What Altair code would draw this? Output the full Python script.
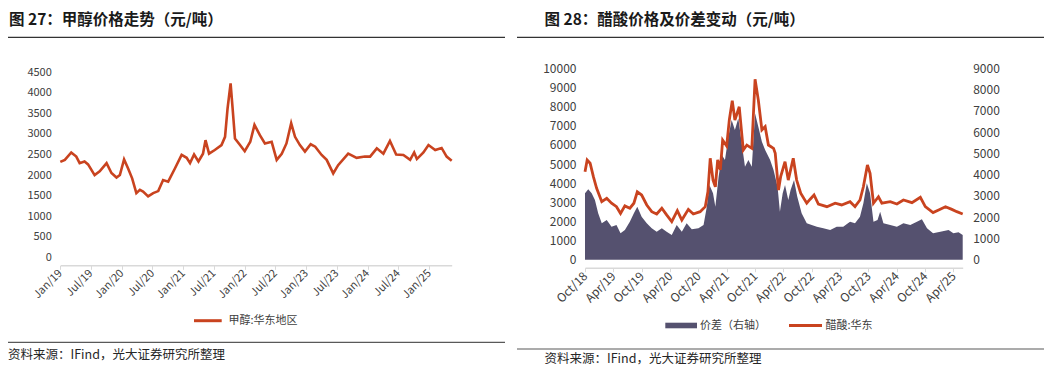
import altair as alt
import pandas as pd

FONT = "Noto Sans CJK SC"
RED = "#C9431F"
PURPLE = "#55516F"
LABEL = "#404040"

# ---------------- data: 甲醇:华东地区 ----------------
meoh_dates = [
    "2019-01-01", "2019-01-28", "2019-03-07", "2019-04-06", "2019-04-26", "2019-05-25",
    "2019-06-15", "2019-07-24", "2019-08-23", "2019-10-03", "2019-11-01", "2019-12-01",
    "2019-12-21", "2020-01-15", "2020-02-08", "2020-03-03", "2020-03-28", "2020-04-18",
    "2020-05-07", "2020-06-06", "2020-07-06", "2020-08-05", "2020-09-03", "2020-10-03",
    "2020-11-12", "2020-12-22", "2021-01-21", "2021-02-10", "2021-03-06", "2021-04-01",
    "2021-04-28", "2021-05-13", "2021-06-03", "2021-07-07", "2021-08-16", "2021-09-06",
    "2021-09-21", "2021-10-09", "2021-10-21", "2021-11-04", "2021-12-04", "2022-01-01",
    "2022-01-22", "2022-02-03", "2022-02-28", "2022-04-01", "2022-05-01", "2022-06-10",
    "2022-07-10", "2022-08-09", "2022-09-06", "2022-10-04", "2022-10-27", "2022-11-25",
    "2022-12-25", "2023-01-28", "2023-02-24", "2023-04-03", "2023-05-03", "2023-06-11",
    "2023-07-10", "2023-09-08", "2023-10-28", "2023-12-16", "2024-01-16", "2024-02-25",
    "2024-04-04", "2024-05-13", "2024-06-19", "2024-08-01", "2024-09-10", "2024-10-04",
    "2024-10-20", "2024-11-28", "2024-12-28", "2025-02-06", "2025-03-16", "2025-04-15",
    "2025-05-15",
]
meoh_values = [
    2320, 2370, 2550, 2450, 2290, 2330,
    2260, 2000, 2090, 2290, 2050, 1940,
    2000, 2380, 2160, 1920, 1560, 1640,
    1600, 1480, 1560, 1610, 1880, 1840,
    2160, 2490, 2420, 2290, 2500, 2330,
    2520, 2850, 2520, 2610, 2730, 2930,
    3620, 4230, 3620, 2890, 2730, 2580,
    2730, 2810, 3220, 2970, 2770, 2810,
    2370, 2520, 2770, 3260, 2930, 2730,
    2570, 2750, 2690, 2490, 2370, 2040,
    2240, 2520, 2420, 2450, 2450, 2650,
    2520, 2830, 2500, 2490, 2370, 2550,
    2390, 2550, 2730, 2610, 2660, 2450,
    2350,
]

# ---------------- data: 醋酸:华东 ----------------
hac_dates = [
    "2018-10-01", "2018-10-15", "2018-11-03", "2018-11-24", "2018-12-15", "2019-01-17",
    "2019-02-18", "2019-03-21", "2019-04-22", "2019-05-18", "2019-06-15", "2019-07-17",
    "2019-08-12", "2019-09-03", "2019-10-01", "2019-11-03", "2019-12-05", "2020-01-06",
    "2020-02-08", "2020-03-10", "2020-04-12", "2020-05-18", "2020-06-16", "2020-07-28",
    "2020-08-29", "2020-10-12", "2020-11-14", "2020-12-01", "2020-12-16", "2021-01-03",
    "2021-01-18", "2021-02-02", "2021-02-19", "2021-03-06", "2021-04-01", "2021-04-18",
    "2021-05-07", "2021-05-24", "2021-06-21", "2021-07-17", "2021-08-09", "2021-09-10",
    "2021-10-01", "2021-10-22", "2021-11-14", "2021-12-05", "2021-12-26", "2022-01-28",
    "2022-02-08", "2022-03-01", "2022-03-15", "2022-04-12", "2022-05-03", "2022-06-04",
    "2022-06-26", "2022-07-22", "2022-08-30", "2022-09-21", "2022-10-16", "2022-11-13",
    "2023-01-07", "2023-03-01", "2023-04-12", "2023-06-05", "2023-07-07", "2023-08-08",
    "2023-08-30", "2023-09-25", "2023-10-12", "2023-11-03", "2023-12-05", "2023-12-27",
    "2024-02-19", "2024-04-02", "2024-05-14", "2024-07-08", "2024-08-31", "2024-10-02",
    "2024-11-21", "2024-12-27", "2025-02-09", "2025-03-22", "2025-04-23", "2025-05-31",
]
hac_values = [
    4600, 5210, 5040, 4340, 3730, 3030,
    3210, 2950, 2770, 2420, 2810, 2690,
    2950, 3550, 3380, 2860, 2510, 2390,
    2690, 2340, 1990, 2560, 2070, 2630,
    2390, 2510, 2770, 3550, 5300, 4160,
    3810, 5210, 4690, 6250, 5940, 7300,
    8310, 7300, 7990, 5730, 5990, 5820,
    9430, 8340, 6780, 6950, 5990, 5820,
    5560, 3640, 4340, 5120, 4160, 5300,
    4160, 3470, 2950, 3160, 3380, 2910,
    2770, 2950, 2860, 3030, 2770, 3120,
    3810, 4950, 4510, 2950, 3290, 2950,
    3030, 2910, 3120, 2980, 3260, 2770,
    2460, 2600, 2770, 2630, 2510, 2390,
]

# ---------------- data: 价差（右轴） ----------------
spread_dates = [
    "2018-10-01", "2018-10-22", "2018-11-13", "2018-12-04", "2018-12-25", "2019-01-17",
    "2019-02-18", "2019-03-21", "2019-04-22", "2019-05-18", "2019-06-15", "2019-07-17",
    "2019-08-12", "2019-09-03", "2019-10-01", "2019-11-03", "2019-12-05", "2020-01-06",
    "2020-02-08", "2020-03-10", "2020-04-12", "2020-05-14", "2020-06-16", "2020-07-17",
    "2020-08-19", "2020-10-01", "2020-11-03", "2020-11-24", "2020-12-11", "2021-01-03",
    "2021-01-18", "2021-02-08", "2021-03-01", "2021-03-21", "2021-04-12", "2021-05-03",
    "2021-05-24", "2021-06-15", "2021-07-07", "2021-07-28", "2021-08-19", "2021-09-10",
    "2021-10-01", "2021-10-22", "2021-11-14", "2021-12-05", "2022-01-06", "2022-01-28",
    "2022-02-23", "2022-03-10", "2022-03-28", "2022-04-12", "2022-05-03", "2022-05-18",
    "2022-06-09", "2022-06-30", "2022-07-28", "2022-08-30", "2022-10-01", "2022-11-03",
    "2022-12-15", "2023-01-28", "2023-03-11", "2023-04-22", "2023-06-05", "2023-07-07",
    "2023-08-08", "2023-08-30", "2023-09-21", "2023-10-12", "2023-11-03", "2023-11-29",
    "2023-12-16", "2024-01-06", "2024-02-19", "2024-04-02", "2024-05-14", "2024-06-27",
    "2024-08-09", "2024-09-10", "2024-10-13", "2024-11-21", "2025-01-07", "2025-03-01",
    "2025-04-01", "2025-05-04", "2025-05-31",
]
spread_values = [
    3120, 3310, 3120, 2810, 2180, 1710,
    1870, 1550, 1630, 1240, 1400, 1790,
    2180, 2490, 2020, 1710, 1480, 1320,
    1480, 1320, 1160, 1630, 1320, 1710,
    1430, 1480, 1630, 2490, 3510, 3120,
    2490, 3900, 4920, 4690, 5780, 6570,
    6100, 6650, 5470, 4370, 4690, 4370,
    6880, 6250, 5550, 5160, 4690, 4220,
    3430, 2260, 3120, 3510, 2810, 3280,
    3750, 2960, 2180, 1710, 1630, 1550,
    1480, 1400, 1550, 1550, 1790, 1710,
    2020, 2650, 3590, 3120, 1790, 1870,
    2260, 1710, 1630, 1550, 1710, 1630,
    1790, 1900, 1480, 1240, 1320, 1400,
    1240, 1290, 1160,
]

# tick labels
left_ticks = [(y, m) for y in range(2019, 2026) for m in (1, 7)][:13]
right_ticks = [(2018, 10)] + [(y, m) for y in range(2019, 2026) for m in (4, 10)][:13]
left_y_ticks = list(range(0, 4501, 500))
right_left_ticks = list(range(0, 10001, 1000))
right_right_ticks = list(range(0, 9001, 1000))

W, H = 1038, 361

meoh_df = pd.DataFrame({"date": meoh_dates, "price": meoh_values})
hac_df = pd.DataFrame({"date": hac_dates, "price": hac_values})
spread_df = pd.DataFrame({"date": spread_dates, "spread": spread_values})


def dt(ym):
    return alt.DateTime(year=ym[0], month=ym[1], date=1, utc=True)


x_axis_common = dict(
    orient="bottom", labelAngle=-45, labelExpr="utcFormat(datum.value, '%b/%y')",
    domainColor="#D9D9D9", domainWidth=1.5, tickColor="#D9D9D9", tickSize=4,
    labelColor=LABEL, labelFont=FONT, grid=False, labelPadding=2,
    labelAlign="right", labelBaseline="middle", labelOverlap=False,
)
y_axis_common = dict(
    domain=False, ticks=False, grid=False, labelColor=LABEL, labelFont=FONT,
    format="d", labelOverlap=False,
)

# ---------------- left panel ----------------
left_line = alt.Chart(meoh_df).mark_line(color=RED, strokeWidth=2.6).encode(
    x=alt.X("date:T", title=None,
            scale=alt.Scale(type="utc", range=[52.3, 443.7], nice=False),
            axis=alt.Axis(offset=-103.7, values=[dt(t) for t in left_ticks],
                          labelFontSize=11, **x_axis_common)),
    y=alt.Y("price:Q", title=None,
            scale=alt.Scale(domain=[0, 4500], range=[249.3, 64.3], nice=False),
            axis=alt.Axis(orient="left", offset=-52.3, values=left_y_ticks,
                          labelPadding=9, labelFontSize=11, **y_axis_common)),
)

# ---------------- right panel ----------------
right_x = alt.X("date:T", title=None,
                scale=alt.Scale(type="utc", range=[577, 954.7], nice=False),
                axis=alt.Axis(offset=-101.3, values=[dt(t) for t in right_ticks],
                              labelFontSize=12, **x_axis_common))

right_area = alt.Chart(spread_df).mark_area(color=PURPLE, opacity=1).encode(
    x=right_x,
    y=alt.Y("spread:Q", title=None,
            scale=alt.Scale(domain=[0, 9000], range=[251.7, 60.3], nice=False),
            axis=alt.Axis(orient="right", offset=-83.3, values=right_right_ticks,
                          labelPadding=10, labelFontSize=12, **y_axis_common)),
)
right_line = alt.Chart(hac_df).mark_line(color=RED, strokeWidth=2.8).encode(
    x=right_x,
    y=alt.Y("price:Q", title=None,
            scale=alt.Scale(domain=[0, 10000], range=[251.7, 60.3], nice=False),
            axis=alt.Axis(orient="left", offset=-577, values=right_left_ticks,
                          labelPadding=9, labelFontSize=12, **y_axis_common)),
)
right_panel = alt.layer(right_area, right_line).resolve_scale(y="independent")

# ---------------- decorations ----------------
one = alt.Data(values=[{}])


def text(s, x, y, size, weight="normal", color="#262626"):
    return alt.Chart(one).mark_text(
        text=s, align="left", baseline="middle", font=FONT, fontSize=size,
        fontWeight=weight, color=color,
    ).encode(x=alt.value(x), y=alt.value(y))


def hrule(x1, x2, y, color, width=1.0):
    return alt.Chart(one).mark_rule(color=color, strokeWidth=width).encode(
        x=alt.value(x1), x2=alt.value(x2), y=alt.value(y))


decor = [
    text("图 27：甲醇价格走势（元/吨）", 1, 12, 15.5, "bold", "#1a1a1a"),
    text("图 28：醋酸价格及价差变动（元/吨）", 536.5, 12, 15.5, "bold", "#1a1a1a"),
    hrule(0, 497, 29.3, "#333333", 1.2),
    hrule(509, 1036, 29.3, "#333333", 1.2),
    # left legend
    hrule(186, 213.7, 312.7, RED, 3),
    text("甲醇:华东地区", 220.5, 312.7, 11, color=LABEL),
    # right legend
    alt.Chart(one).mark_rect(color=PURPLE).encode(
        x=alt.value(657.3), x2=alt.value(689), y=alt.value(314.7), y2=alt.value(320.3)),
    text("价差（右轴）", 692, 317.7, 11, color=LABEL),
    hrule(781, 814, 317.5, RED, 3),
    text("醋酸:华东", 817.5, 317.7, 11, color=LABEL),
    # bottom rules and sources
    hrule(0, 497, 334.3, "#595959", 1.2),
    hrule(509, 1036, 341, "#595959", 1.2),
    text("资料来源：IFind，光大证券研究所整理", 0, 347, 12.5, color="#262626"),
    text("资料来源：IFind，光大证券研究所整理", 536.5, 351.3, 12.5, color="#262626"),
]

chart = alt.layer(left_line, right_panel, *decor).resolve_scale(
    x="independent", y="independent"
).properties(
    width=W, height=H, padding=0,
    autosize=alt.AutoSizeParams(type="none"),
).configure_view(stroke=None)

chart.save("out.html", embed_options={"renderer": "svg", "actions": False})
